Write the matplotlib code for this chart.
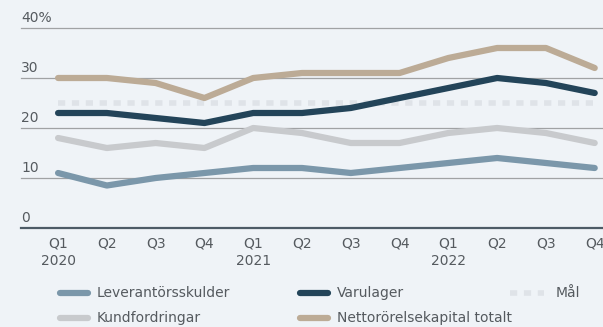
import matplotlib.pyplot as plt
from matplotlib.lines import Line2D

quarters = ["Q1\n2020", "Q2", "Q3", "Q4", "Q1\n2021", "Q2", "Q3", "Q4",
            "Q1\n2022", "Q2", "Q3", "Q4"]
leverantorsskulder = [11, 8.5, 10, 11, 12, 12, 11, 12, 13, 14, 13, 12]
kundfordringar = [18, 16, 17, 16, 20, 19, 17, 17, 19, 20, 19, 17]
varulager = [23, 23, 22, 21, 23, 23, 24, 26, 28, 30, 29, 27]
nettororelsekapital = [30, 30, 29, 26, 30, 31, 31, 31, 34, 36, 36, 32]
mal = 25
y_ticks = [0, 10, 20, 30, 40]
y_labels = ["0", "10", "20", "30", "40%"]

bg = "#eff3f7"
text_col = "#555a5f"
c_lev = "#7b97aa"
c_kund = "#c8cacd"
c_var = "#234459"
c_netto = "#bcab96"
c_mal = "#dfe3e8"
fs = 10

plt.rcParams['font.family'] = ['DejaVu Sans']

fig = plt.figure(figsize=(6.03, 3.27), dpi=100, facecolor=bg)
ax = fig.add_axes([21 / 603, 1 - 228 / 327, 1 - 21 / 603, 200 / 327])
ax.set_facecolor(bg)

x = list(range(len(quarters)))
ax.set_xlim(-0.76, 11.17)
ax.set_ylim(0, 40)

# gridlines with labels sitting on top of them
for t, lab in zip(y_ticks, y_labels):
    if t == 0:
        ax.axhline(t, color="#4d5b66", lw=1.6, zorder=1, clip_on=False)
    else:
        ax.axhline(t, color="#a0a2a4", lw=0.9, zorder=1, clip_on=False)
    ax.text(0, t + 0.7, lab, transform=ax.get_yaxis_transform(),
            ha="left", va="bottom", fontsize=fs, color=text_col)

ax.plot([x[0], x[-1]], [mal, mal], color=c_mal, lw=4, dashes=(1.3, 1.2),
        solid_capstyle="butt", zorder=2)

kw = dict(lw=4.5, solid_capstyle="round", solid_joinstyle="round", zorder=3,
          clip_on=False)
ax.plot(x, kundfordringar, color=c_kund, **kw)
ax.plot(x, leverantorsskulder, color=c_lev, **kw)
ax.plot(x, nettororelsekapital, color=c_netto, **kw)
ax.plot(x, varulager, color=c_var, **kw)

ax.set_xticks(x)
ax.set_xticklabels(quarters, fontsize=fs, color=text_col, linespacing=1.3)
ax.tick_params(axis="x", length=0, pad=6)
ax.set_yticks([])
for s in ax.spines.values():
    s.set_visible(False)

# legend drawn by hand
items = [
    ("Leverantörsskulder", c_lev, 60, 293, False),
    ("Varulager", c_var, 300, 293, False),
    ("Mål", c_mal, 510, 293, True),
    ("Kundfordringar", c_kund, 60, 318, False),
    ("Nettorörelsekapital totalt", c_netto, 300, 318, False),
]
W, H = 603, 327
for label, col, px, py, dashed in items:
    yy = 1 - py / H
    if dashed:
        ln = Line2D([px / W, (px + 34) / W], [yy, yy], color=col, lw=4,
                    dashes=(1.3, 1.2), transform=fig.transFigure)
        tx = px + 46
    else:
        ln = Line2D([px / W, (px + 28) / W], [yy, yy], color=col, lw=4.5,
                    solid_capstyle="round", transform=fig.transFigure)
        tx = px + 37
    fig.add_artist(ln)
    fig.text(tx / W, yy, label, ha="left", va="center", fontsize=fs,
             color=text_col)

fig.savefig("out.png", dpi=100, facecolor=bg)
